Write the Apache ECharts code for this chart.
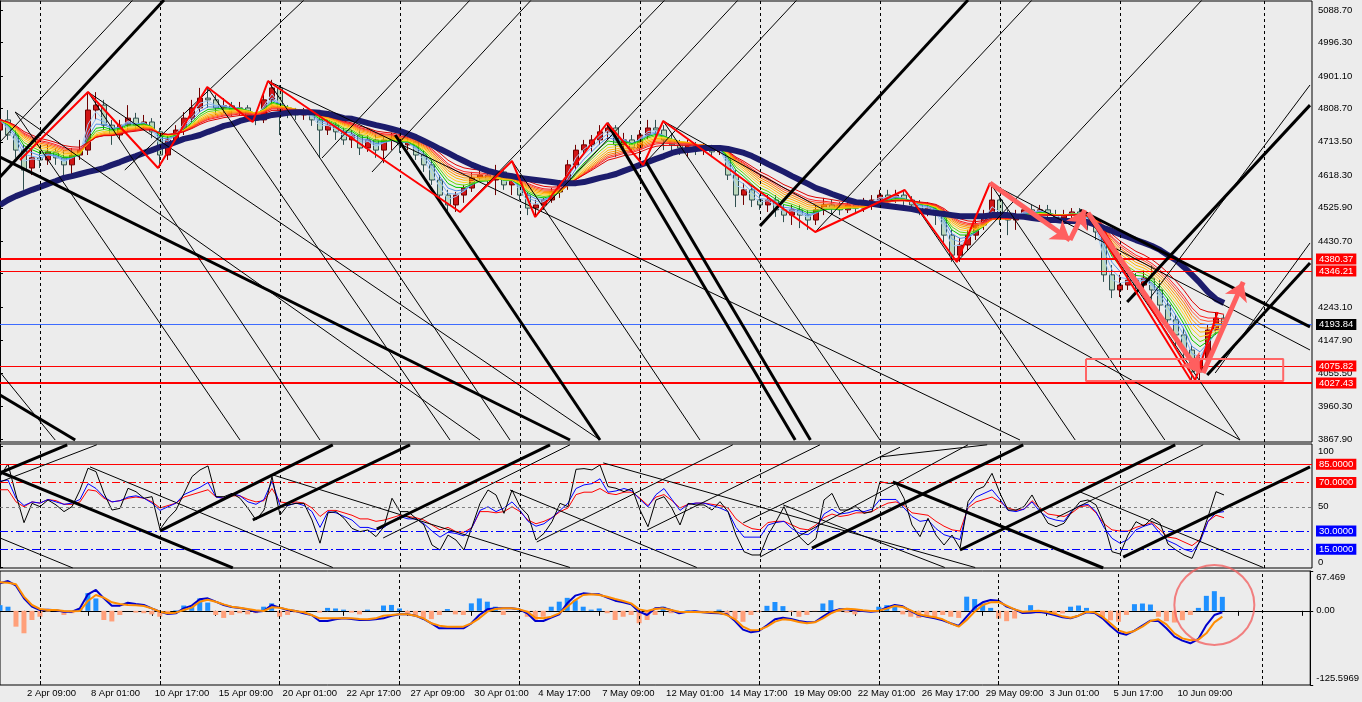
<!DOCTYPE html>
<html>
<head>
<meta charset="utf-8">
<script src="https://cdn.jsdelivr.net/npm/echarts@6/dist/echarts.min.js"></script>
<style>
html, body { margin: 0; padding: 0; background: #ececec; }
#chart { width: 1362px; height: 702px; }
</style>
</head>
<body>
<div id="chart"></div>
<script>
// time axis: one bar every 8px, label every 8 bars starting at bar 3
var timeLabels = ['2 Apr 09:00', '8 Apr 01:00', '10 Apr 17:00', '15 Apr 09:00', '20 Apr 01:00', '22 Apr 17:00',
	'27 Apr 09:00', '30 Apr 01:00', '4 May 17:00', '7 May 09:00', '12 May 01:00', '14 May 17:00', '19 May 09:00',
	'22 May 01:00', '26 May 17:00', '29 May 09:00', '3 Jun 01:00', '5 Jun 17:00', '10 Jun 09:00'];
var firstLabelBar = 3, labelStep = 8, barCount = 165;
var gridBars = [5, 20, 35, 50, 65, 80, 95, 110, 125, 140, 158];

// price axis
var priceTicks = [5088.70, 4996.30, 4901.10, 4808.70, 4713.50, 4618.30, 4525.90, 4430.70, 4338.30, 4243.10, 4147.90, 4055.50, 3960.30, 3867.90];
var redLevels = [4380.37, 4346.21, 4075.82, 4027.43];
var bidLevel = 4193.84;
var oscTicks = [0, 50, 100];
var oscLevels = [85, 70, 50, 30, 15];
var macdTicks = [-125.5969, 0, 67.469];

// candles: [open, close, low, high]
var candles = [
[4747,4776,4724,4798],[4776,4733,4719,4804],[4733,4690,4668,4747],[4690,4633,4577,4705],[4639,4668,4619,4690],
[4668,4662,4639,4690],[4662,4685,4648,4705],[4685,4668,4648,4696],[4668,4648,4619,4690],[4648,4676,4611,4696],
[4676,4690,4662,4719],[4690,4804,4676,4855],[4804,4818,4776,4855],[4818,4761,4747,4833],[4761,4733,4705,4776],
[4733,4761,4719,4776],[4761,4781,4747,4818],[4781,4761,4747,4796],[4761,4770,4747,4790],[4770,4742,4724,4781],
[4742,4676,4639,4753],[4676,4719,4662,4733],[4719,4747,4705,4761],[4747,4781,4733,4798],[4781,4810,4770,4833],
[4810,4838,4798,4867],[4838,4833,4810,4870],[4833,4810,4790,4847],[4810,4816,4796,4838],[4816,4804,4787,4827],
[4804,4810,4790,4827],[4810,4790,4776,4818],[4790,4776,4761,4798],[4776,4833,4767,4847],[4833,4867,4818,4890],
[4867,4804,4733,4875],[4804,4798,4781,4818],[4798,4790,4776,4810],[4790,4798,4776,4810],[4798,4776,4759,4804],
[4776,4747,4668,4784],[4747,4761,4733,4776],[4761,4742,4719,4770],[4742,4719,4705,4753],[4719,4733,4696,4747],
[4733,4696,4676,4747],[4696,4719,4685,4733],[4719,4690,4668,4733],[4690,4719,4653,4727],[4719,4724,4690,4739],
[4724,4705,4682,4739],[4705,4713,4690,4727],[4713,4676,4662,4719],[4676,4648,4628,4690],[4648,4605,4591,4662],
[4605,4562,4548,4619],[4562,4534,4514,4577],[4534,4562,4514,4571],[4562,4582,4540,4591],[4582,4611,4571,4628],
[4611,4619,4599,4633],[4619,4605,4591,4633],[4605,4628,4562,4648],[4628,4591,4577,4639],[4591,4605,4562,4619],
[4605,4562,4548,4611],[4562,4525,4505,4571],[4525,4534,4500,4548],[4534,4548,4520,4554],[4548,4571,4540,4582],
[4571,4591,4554,4605],[4591,4648,4577,4662],[4648,4690,4633,4705],[4690,4705,4676,4719],[4705,4719,4685,4733],
[4719,4742,4705,4761],[4742,4753,4719,4767],[4753,4705,4670,4761],[4705,4719,4690,4739],[4719,4696,4685,4733],
[4696,4733,4653,4747],[4733,4753,4719,4776],[4753,4747,4727,4776],[4747,4719,4690,4761],[4719,4705,4682,4733],
[4705,4696,4676,4719],[4696,4705,4670,4719],[4705,4690,4676,4713],[4690,4696,4676,4710],[4696,4685,4670,4705],
[4685,4690,4676,4699],[4690,4619,4605,4699],[4619,4562,4528,4633],[4562,4577,4534,4596],[4577,4548,4528,4591],
[4548,4534,4520,4562],[4534,4548,4514,4562],[4548,4520,4500,4562],[4520,4505,4485,4534],[4505,4520,4477,4534],
[4520,4505,4468,4534],[4505,4491,4463,4520],[4491,4520,4477,4534],[4520,4534,4505,4554],[4534,4525,4505,4548],
[4525,4520,4505,4542],[4520,4534,4511,4548],[4534,4525,4508,4548],[4525,4534,4514,4554],[4534,4548,4520,4562],
[4548,4562,4534,4577],[4562,4554,4534,4577],[4554,4562,4540,4577],[4562,4548,4534,4577],[4548,4534,4520,4559],
[4534,4520,4505,4548],[4520,4525,4502,4542],[4525,4505,4477,4534],[4505,4448,4420,4520],[4448,4391,4372,4463],
[4391,4420,4372,4440],[4420,4448,4406,4463],[4448,4477,4434,4491],[4477,4505,4463,4520],[4505,4548,4491,4596],
[4548,4505,4477,4562],[4505,4491,4448,4520],[4491,4505,4463,4520],[4505,4520,4497,4534],[4520,4514,4497,4534],
[4514,4520,4502,4534],[4520,4505,4491,4534],[4505,4497,4485,4520],[4497,4505,4485,4520],[4505,4514,4491,4525],
[4514,4505,4491,4525],[4505,4485,4463,4514],[4485,4457,4434,4497],[4457,4335,4315,4468],[4335,4292,4269,4363],
[4292,4306,4272,4335],[4306,4320,4292,4343],[4320,4306,4286,4340],[4306,4326,4292,4349],[4326,4292,4263,4363],
[4292,4249,4226,4320],[4249,4207,4178,4269],[4207,4164,4135,4221],[4164,4121,4093,4184],[4121,4059,4027,4135],
[4059,4093,4033,4107],[4093,4178,4079,4192],[4178,4212,4164,4229],[4212,4192,4184,4221]
];

// slow (thick navy) moving average
var slowMA = [
4534,4548,4559,4568,4577,4585,4594,4602,4611,4616,4622,4628,4633,4639,4648,4656,4665,4673,4682,4690,
4699,4705,4713,4722,4727,4733,4742,4750,4759,4764,4773,4779,4781,4784,4790,4793,4796,4798,4798,4798,
4796,4793,4787,4781,4779,4773,4767,4761,4756,4750,4744,4736,4727,4716,4705,4693,4682,4670,4659,4648,
4639,4631,4625,4619,4616,4611,4608,4605,4602,4599,4596,4596,4596,4599,4605,4611,4616,4622,4631,4639,
4648,4656,4665,4673,4682,4688,4690,4693,4696,4696,4696,4693,4688,4682,4673,4662,4650,4639,4628,4616,
4605,4594,4582,4574,4565,4557,4548,4542,4540,4537,4534,4531,4528,4525,4522,4517,4514,4511,4508,4505,
4502,4502,4502,4502,4505,4505,4505,4502,4500,4497,4494,4491,4491,4488,4488,4488,4485,4477,4468,4460,
4451,4443,4434,4426,4417,4406,4391,4377,4357,4335,4312,4286,4266,4255
];

// oscillator panel
var oscFast = [
74.8,85.2,59.7,36.9,52.8,50.1,55.6,51.5,46,50.1, 63.8,81.7,78.9,61,47.3,48.7,65.2,62.4,57,58.3,
31.4,40.5,47.3,61,74.8,80.3,83.6,58.3,58.3,61, 57,48.7,39.1,47.3,74.8,43.2,51.5,52.8,52.8,39.1,
20,45,46,40.5,32.2,29.5,30.9,25.4,33.6,57, 46,46,40.5,35,18.5,14.4,26.7,22.6,14.4,33.6,
52.8,63.8,59.7,44.6,63.8,50.1,43.2,22.6,28.1,37.7, 52.8,50.1,80.8,81.4,80.3,84.4,66.6,65.2,62.4,65.2,
47.3,33.6,55.6,58.3,48.7,35,52.8,51.5,51.5,47.3, 54.2,46,26.7,13,10.3,10.3,26.7,37.7,50.1,35,
24.8,18.5,24,55.6,61,47.3,47.3,50.1,44.6,46, 70.7,69.3,69.3,57,35,25.4,40.5,26.7,18.5,26.7,
15.8,54.2,63.8,66.6,77.5,61,47.3,47.3,50.1,59.7, 47.3,36.4,33.6,36.4,46,54.2,55.6,51.5,36.4,13,
11.1,26.7,37.7,34.2,40.5,36.4,19.3,14.4,10.3,7.5, 22.6,41.8,62.4,59.7
];
var oscMid = [
71,72,57,51,54,53,56,54,52,53, 56,69,65,58,54,55,58,59,57,53, 47,50,53,60,63,66,70,58,57,61,
59,54,52,56,71,51,51,53,51,46, 33,46,45,42,39,33,33,31,33,38, 42,40,40,36,30,25,29,28,26,33,
47,50,46,49,54,47,38,34,36,41, 47,53,65,68,69,73,62,63,65,63, 56,50,60,65,56,47,52,53,53,51,
49,46,33,25,25,25,35,37,38,32, 28,27,32,44,48,44,45,47,46,48, 56,56,56,49,42,38,39,32,27,25,
23,51,58,61,64,56,47,46,48,54, 46,41,39,38,47,51,52,46,33,24, 20,23,31,34,36,28,22,19,15,13,
21,38,45,46
];
var oscSlow = [
64,64,54,50,54,53,56,55,52,52, 54,64,63,57,54,55,57,58,57,54, 49,51,53,58,60,62,64,58,57,59,
59,56,54,55,65,54,53,54,53,49, 42,47,47,45,43,40,40,38,39,41, 43,42,41,39,35,31,33,29.5,29,33,
46,46,45,46,50,46,39,36,38,41, 46,49,60,62,62,65,61,60,62,62, 57,51,58,60,55,49,52,53,53,52,
51,49,40,35,32,31,37,38,38,35, 32,31,35,41,44,42,43,45,45,46, 50,53,54,51,45,44,43,38,34,31,
30,49,54,56,58,54,49,47,48,55, 49,44,43,42,45,50,51,45,36,31, 30,30,33,35,37,31,25,24,21,18,
23,38,43,41
];

// MACD panel
var macdMain = [
46.6,50.5,42.6,21.2,7.1,1.4,2,0.9,-1.4,-1.4, 4.2,28,35.3,21.2,8.8,8.8,13.8,11.6,9.9,4.2,
-1.4,-5.4,-4.2,4.2,8.8,19.5,21.2,15.5,9.9,6.5, 4.8,2.5,-1.4,-0.3,9.9,5.4,1.4,-0.3,-4.2,-7.1,
-17.2,-17.2,-14.4,-12.7,-13.8,-15.5,-15.5,-14.4,-12.7,-8.2, -5.9,-5.9,-8.2,-13.8,-21.1,-29.6,-29.6,-29.6,-29.6,-21.1,
-7.1,2.5,4.2,4.2,4.2,2.5,-4.2,-17.2,-17.2,-11.6, -5.9,12.7,25.7,29.6,28.5,28,22.3,17.2,14.4,11,
-1.4,-7.1,4.2,5.4,1.4,-4.2,-1.4,-0.8,-2.5,-3.7, -4.2,-5.9,-17.2,-31.9,-36.4,-34.1,-24.5,-14.4,-11.6,-13.8,
-17.2,-19.5,-18.9,-9.9,-1.4,2.5,2.5,0.9,-0.3,-1.4, -0.3,5.9,9.9,7.6,-0.3,-7.1,-9.9,-12.7,-16.1,-21.1,
-25.7,-9.9,5.4,14.4,18.3,17.2,7.1,2.5,-3.7,-3.1, -1.4,-3.7,-7.1,-11,-12.7,-8.2,-2.5,-3.7,-12.7,-25.7,
-37,-40.4,-33.6,-25.1,-16.6,-17.2,-29.6,-43.7,-50.5,-55, -47.7,-24,-7.1,-2.5
];
var macdSignal = [
48.3,47.7,44.9,24,9.9,3.1,1.4,1.4,-0.3,-0.8, -0.3,16.7,26.8,22.3,14.4,11.6,9.9,9.3,8.2,4.2,
-1.4,-4.2,-3.1,1.4,5.4,15.5,18.9,15.5,11,7.1, 5.4,3.1,0.9,-0.3,5.9,5.4,2.5,-0.3,-2.5,-7.1,
-12.7,-12.7,-12.7,-12.7,-12.7,-13.8,-14.4,-12.7,-8.2,-7.1, -5.9,-5.9,-8.2,-12.7,-21.1,-25.1,-26.8,-26.8,-26.8,-21.1,
-12.7,-1.4,3.1,4.2,4.2,2.5,-1.4,-11.6,-12.7,-9.9, -4.2,7.1,18.3,26.8,28,26.8,24,20,16.7,12.7,
2.5,-0.3,3.1,4.2,1.4,-1.4,-2,-2,-2.5,-2.5, -3.1,-7.1,-14.4,-26.8,-33,-32.4,-26.8,-18.3,-14.4,-15.5,
-18.9,-21.1,-19.5,-12.7,-4.2,1.4,3.7,2.5,0.9,-0.3, 0.3,3.7,8.2,6.5,0.9,-5.9,-8.7,-11,-14.4,-21.1,
-26.8,-15.5,-1.4,9.9,14.4,15,8.8,2.5,-1.4,-0.8, 0.3,-1.4,-4.8,-9.3,-11.6,-8.2,-1.4,-2.5,-9.9,-21.1,
-33,-37.5,-34.1,-26.8,-17.2,-14.4,-22.8,-38.1,-46.6,-49.9, -48.8,-38.1,-19.5,-9.9
];
var macdHist = [
9.6,7,-26.8,-38,-15.5,-10,-1.4,1.4,-7,-4, 4,30,21,-15.5,-18,-7,0,-3,-4,-6,
-10,-4,1,9,7,21,14,-7,-12,-7, -4,-6,-4,7,12.7,-10,-7,-3,-1.4,0,
-3,5,4,2,-3,-6,2,0,9,10, 4,-4,-7,-12.7,-14,-7,3,-6,-7,12.7,
21,15.5,7,-7,0,1,-10,-15.5,-10,7, 15.5,22,18,7,2,4,-4,-15.5,-10,-7,
-21,-15.5,-7,7,-4,0,1,0.5,-3,-3, 2,-7,-14,-18.6,-7,-1.7,8.5,15,8,-1.7,
-10,-7,-0.5,12.4,18,-1.7,-3,-6,-1.7,0.5, 7,9.6,7,-6,-10,-12,-10,-13,-7,-10,
-12,24,20,12.4,5,-13,-17.5,-13,0,9.6, -4.5,-4.5,-4.5,-4.5,7,9,5,0,-12,-16,
-18.6,-7,11.3,12.4,10.7,-10,-17.5,-19.8,-15.8,-7, 5,25.4,33.3,23.7
];
var circleMark = [[152, 9.9]];

// drawn objects on the price window, [bar, price]
var zigzag = [[2.5,4661.8],[11,4855.3],[19.75,4639.1],[25.9,4869.6],[31.6,4770],[33.5,4886.7],[57.5,4513.9],
	[64,4659],[66.9,4499.6],[75.9,4767.1],[80.4,4647.6],[82.9,4772.8],[101.9,4457],[113.1,4576.5],
	[119.6,4371.6],[123.75,4596.4]];
var redLines = [[[135.9,4511],[149,4030]], [[138,4460],[149.4,4035]], [[149.4,4035],[152.2,4229]]];
var arrows = [[[123.75,4596.4],[133.75,4434.2]], [[133.75,4434.2],[135.6,4519.6]],
	[[136,4511],[150,4055.7]], [[150.4,4055.7],[155.4,4314.7]]];
var boxArea = [[135.75,4095.5],[160.4,4095.5],[160.4,4033],[135.75,4033],[135.75,4095.5]];
var thickLines = [
	[[0,4613.5],[20.5,5117]], [[0,4670.4],[71.25,3865]], [[0,3993],[9.4,3865]], [[49.4,4733],[75,3865]],
	[[75.9,4767],[99.4,3865]], [[80.6,4662],[101.3,3865]], [[95,4474],[121,5117]], [[140.9,4258],[163.75,4818]],
	[[150.9,4050],[163.75,4369]], [[135,4519.6],[163.75,4187]]
];
var thinLines = [
	[[0,4713.1],[16.6,5117]], [[15.6,4633.4],[38,5117]], [[40.25,4667.5],[58.75,5117]], [[46.5,4627.7],[66.4,5117]],
	[[57.5,4513.9],[83.1,5117]], [[66.9,4499.6],[92.25,5117]], [[80.4,4647.6],[99.6,5117]], [[101.9,4457],[129,5117]],
	[[119.6,4371.6],[150.25,5117]], [[143.75,4269],[163.75,4875.3]], [[151.9,4055.7],[163.75,4425.7]],
	[[1.9,4798.4],[30,3865]], [[11,4855.3],[40,3865]], [[25.9,4869.6],[56.25,3865]], [[33.5,4886.7],[63.75,3865]],
	[[64,4659],[87.5,3865]], [[82.9,4772.8],[110,3865]], [[113.1,4576.5],[134.4,3865]], [[123.75,4596.4],[145.6,3865]],
	[[135.4,4519.6],[155,3865]],
	[[11,4855.3],[75,3865]], [[1.9,4798.4],[60,3865]], [[33.5,4886.7],[127.5,3865]], [[82.9,4772.8],[155,3865]],
	[[123.75,4596.4],[163.75,4121.2]], [[0,4058],[6.9,3865]]
];
// drawn objects on the oscillator window, [bar, value]
var oscThick = [
	[[0,78.7],[29.1,-0.4]], [[0,77.8],[8.4,101]], [[20,30.1],[41.6,101]], [[31.6,39.1],[51.25,101]],
	[[47.1,31.7],[68.75,101]], [[101.5,16],[127.9,101]], [[111.6,70.4],[137.9,-0.4]], [[120,14.4],[146.9,101]],
	[[140.4,8.6],[163.75,82.8]]
];
var oscThin = [
	[[0,70.4],[12.1,101]], [[11.25,82.8],[41.6,0]], [[0,24.3],[9.1,-0.4]], [[34.1,76.2],[71.25,0]],
	[[47.9,24.3],[71.25,101]], [[63.75,63.8],[87.1,0]], [[67.1,21],[91.6,101]], [[80.9,30.9],[102.5,101]],
	[[75.4,86.1],[121.9,0]], [[92.9,36.7],[112.5,99]], [[95,8.6],[121,101]], [[97.9,51.5],[118.1,0]],
	[[110,91],[123.4,101]], [[135,62.2],[157.9,0]], [[132.1,41.2],[150.4,101]]
];

var emaPeriods = [2, 3, 4, 5, 6, 7, 8, 9, 10, 11, 12, 14];
var ribbonColors = ['#a4ccf4', '#7cb2f0', '#4f8fe6', '#00c800', '#66d600', '#ffd21f', '#ffb400', '#ff9900',
	'#ff7a00', '#ff5030', '#ff2020', '#dd0000'];

var FONT = 'Liberation Sans';

function ema(src, n) {
	var k = 2 / (n + 1), out = [], prev = src[0];
	for (var i = 0; i < src.length; i++) {
		prev = i === 0 ? src[0] : src[i] * k + prev * (1 - k);
		out.push(Math.round(prev * 100) / 100);
	}
	return out;
}

function showChart(divId) {
	var chart = echarts.init(document.getElementById(divId), null, { renderer: 'canvas' });
	chart.setOption(genOption(), true);
}

function genOption() {
	var cats = [];
	for (var i = 0; i < barCount; i++) cats.push('');
	timeLabels.forEach(function (t, k) { cats[firstLabelBar + k * labelStep] = t; });
	var closes = candles.map(function (c) { return c[1]; });
	var blank = cats.map(function () { return '-'; });

	var labelStyle = { color: '#000', fontFamily: FONT, fontSize: 9.5 };
	var gridLineData = gridBars.map(function (b) { return { xAxis: b }; });
	var gridMark = {
		silent: true, symbol: 'none', label: { show: false },
		lineStyle: { color: '#000', type: [3, 3], width: 1 },
		data: gridLineData
	};

	function tag(v, bg, text, lineStyle) {
		return {
			yAxis: v, lineStyle: lineStyle,
			label: {
				show: !!bg, position: 'end', distance: 4, formatter: text,
				color: '#fff', backgroundColor: bg, padding: [1, 3, 0, 3],
				fontFamily: FONT, fontSize: 9.5
			}
		};
	}

	var priceMarks = redLevels.map(function (v, k) {
		return tag(v, '#ff0000', v.toFixed(2), { color: '#ff0000', width: (k === 0 || k === 3) ? 2 : 1, type: 'solid' });
	});
	priceMarks.push(tag(bidLevel, '#000', bidLevel.toFixed(2), { color: '#3d6bff', width: 1, type: 'solid' }));

	var oscStyles = {
		85: { color: '#ff0000', type: 'solid', bg: '#ff0000' },
		70: { color: '#ff0000', type: [8, 3, 2, 3], bg: '#ff0000' },
		50: { color: '#808080', type: [3, 3], bg: null },
		30: { color: '#0000ff', type: [8, 3, 2, 3], bg: '#0000ff' },
		15: { color: '#0000ff', type: [8, 3, 2, 3], bg: '#0000ff' }
	};
	var oscMarks = oscLevels.map(function (v) {
		var s = oscStyles[v];
		return tag(v, s.bg, v.toFixed(4), { color: s.color, type: s.type, width: 1 });
	});

	var series = [];
	// grid lines behind everything
	[[0, 0], [2, 1], [4, 2]].forEach(function (p) {
		series.push({ type: 'line', xAxisIndex: p[0], yAxisIndex: p[1], data: blank, symbol: 'none', z: 1,
			silent: true, markLine: gridMark });
	});

	series.push({
		type: 'candlestick', xAxisIndex: 0, yAxisIndex: 0, data: candles, barWidth: 5, z: 2, silent: true,
		itemStyle: { color: '#d01616', color0: '#bcd8bc', borderColor: '#6e0000', borderColor0: '#2f4f4f', borderWidth: 1 }
	});
	emaPeriods.forEach(function (p, k) {
		series.push({ type: 'line', xAxisIndex: 0, yAxisIndex: 0, data: ema(closes, p), symbol: 'none', z: 3,
			silent: true, lineStyle: { color: ribbonColors[k], width: 1 } });
	});
	series.push({
		type: 'line', xAxisIndex: 0, yAxisIndex: 0, data: slowMA, symbol: 'none', z: 4, silent: true,
		lineStyle: { color: '#1c1c6c', width: 6 },
		markLine: { silent: true, symbol: 'none', data: priceMarks }
	});
	series.push({ type: 'lines', coordinateSystem: 'cartesian2d', xAxisIndex: 1, yAxisIndex: 0, z: 5, silent: true, clip: true,
		data: thinLines.map(function (c) { return { coords: c }; }), lineStyle: { color: '#000', width: 1, opacity: 1 } });
	series.push({ type: 'lines', coordinateSystem: 'cartesian2d', xAxisIndex: 1, yAxisIndex: 0, z: 5, silent: true, clip: true,
		data: thickLines.map(function (c) { return { coords: c }; }), lineStyle: { color: '#000', width: 3, opacity: 1 } });
	series.push({ type: 'line', xAxisIndex: 1, yAxisIndex: 0, data: zigzag, symbol: 'none', z: 6, silent: true,
		lineStyle: { color: '#ff0000', width: 2 } });
	series.push({ type: 'lines', coordinateSystem: 'cartesian2d', xAxisIndex: 1, yAxisIndex: 0, z: 6, silent: true, clip: true,
		data: redLines.map(function (c) { return { coords: c }; }), lineStyle: { color: '#ff0000', width: 2, opacity: 1 } });
	series.push({ type: 'lines', coordinateSystem: 'cartesian2d', xAxisIndex: 1, yAxisIndex: 0, z: 7, silent: true, clip: true,
		symbol: ['none', 'arrow'], symbolSize: 18,
		data: arrows.map(function (c) { return { coords: c }; }), lineStyle: { color: '#ff5f5f', width: 5, opacity: 1 } });
	series.push({ type: 'line', xAxisIndex: 1, yAxisIndex: 0, data: boxArea, symbol: 'none', z: 6, silent: true,
		lineStyle: { color: '#ff6666', width: 2 } });

	// oscillator window
	series.push({ type: 'line', xAxisIndex: 2, yAxisIndex: 1, data: oscSlow, symbol: 'none', z: 3, silent: true,
		lineStyle: { color: '#ff0000', width: 1 },
		markLine: { silent: true, symbol: 'none', data: oscMarks } });
	series.push({ type: 'line', xAxisIndex: 2, yAxisIndex: 1, data: oscMid, symbol: 'none', z: 3, silent: true,
		lineStyle: { color: '#0000ff', width: 1 } });
	series.push({ type: 'line', xAxisIndex: 2, yAxisIndex: 1, data: oscFast, symbol: 'none', z: 3, silent: true,
		lineStyle: { color: '#000', width: 1 } });
	series.push({ type: 'lines', coordinateSystem: 'cartesian2d', xAxisIndex: 3, yAxisIndex: 1, z: 5, silent: true, clip: true,
		data: oscThin.map(function (c) { return { coords: c }; }), lineStyle: { color: '#000', width: 1, opacity: 1 } });
	series.push({ type: 'lines', coordinateSystem: 'cartesian2d', xAxisIndex: 3, yAxisIndex: 1, z: 5, silent: true, clip: true,
		data: oscThick.map(function (c) { return { coords: c }; }), lineStyle: { color: '#000', width: 3, opacity: 1 } });

	// MACD window
	series.push({ type: 'bar', xAxisIndex: 4, yAxisIndex: 2, data: macdHist, barWidth: 5, z: 2, silent: true,
		itemStyle: { color: function (p) { return p.value >= 0 ? '#1e90ff' : '#ffa07a'; } } });
	series.push({ type: 'line', xAxisIndex: 4, yAxisIndex: 2, data: macdMain, symbol: 'none', z: 3, silent: true,
		lineStyle: { color: '#0000cd', width: 2 } });
	series.push({ type: 'line', xAxisIndex: 4, yAxisIndex: 2, data: macdSignal, symbol: 'none', z: 4, silent: true,
		lineStyle: { color: '#ff8c00', width: 2 } });
	series.push({ type: 'scatter', xAxisIndex: 4, yAxisIndex: 2, data: circleMark, symbol: 'circle', symbolSize: 80,
		z: 8, silent: true, clip: false, itemStyle: { color: 'rgba(0,0,0,0)', borderColor: '#f26464', borderWidth: 2 } });

	function catAxis(g, extra) {
		var a = { type: 'category', gridIndex: g, data: cats, boundaryGap: false,
			axisLine: { show: false }, axisTick: { show: false }, axisLabel: { show: false }, splitLine: { show: false } };
		return Object.assign(a, extra || {});
	}
	function valAxis(g) {
		return { type: 'value', gridIndex: g, min: 0, max: barCount - 1, show: false };
	}
	var isLabel = function (idx) { return idx >= firstLabelBar && (idx - firstLabelBar) % labelStep === 0; };
	var isGrid = function (idx) { return gridBars.indexOf(idx) >= 0; };

	var yBase = {
		type: 'value', position: 'right',
		axisLine: { show: true, lineStyle: { color: '#000' } },
		splitLine: { show: false }
	};

	return {
		backgroundColor: '#ececec',
		animation: false,
		textStyle: { fontFamily: FONT },
		grid: [
			{ left: 0, right: 50, top: 1, height: 441, show: true, borderColor: '#000', borderWidth: 1 },
			{ left: 0, right: 50, top: 444, height: 124, show: true, borderColor: '#000', borderWidth: 1 },
			{ left: 0, right: 50, top: 571, height: 114, show: true, borderColor: '#000', borderWidth: 1 }
		],
		xAxis: [
			catAxis(0), valAxis(0),
			catAxis(1), valAxis(1),
			catAxis(2, {
				position: 'bottom',
				axisLine: { show: true, lineStyle: { color: '#000' } },
				axisTick: { show: true, interval: isLabel, length: 5, lineStyle: { color: '#000' } },
				axisLabel: Object.assign({ show: true, interval: isLabel, align: 'left', margin: 3, padding: [0, 0, 0, 3] }, labelStyle)
			}),
			catAxis(2, {
				position: 'bottom',
				axisTick: { show: true, inside: true, interval: isGrid, length: 4, lineStyle: { color: '#000' } }
			})
		],
		yAxis: [
			Object.assign({}, yBase, {
				gridIndex: 0, min: 3859.36, max: 5114.31,
				axisTick: { show: true, length: 3, customValues: priceTicks, lineStyle: { color: '#000' } },
				axisLabel: Object.assign({ customValues: priceTicks, margin: 6, formatter: function (v) { return v.toFixed(2); } }, labelStyle)
			}),
			Object.assign({}, yBase, {
				gridIndex: 1, min: -0.41, max: 101.65,
				axisTick: { show: true, length: 3, customValues: oscTicks, lineStyle: { color: '#000' } },
				axisLabel: Object.assign({
					customValues: oscTicks, margin: 6,
					formatter: function (v) { return v === 100 ? '{t|100}' : (v === 0 ? '{b|0}' : String(v)); },
					rich: { t: { padding: [10, 0, 0, 0], fontSize: 9.5, fontFamily: FONT }, b: { padding: [0, 0, 10, 0], fontSize: 9.5, fontFamily: FONT } }
				}, labelStyle)
			}),
			Object.assign({}, yBase, {
				gridIndex: 2, min: -125.5969, max: 67.469,
				axisTick: { show: true, length: 3, customValues: macdTicks, lineStyle: { color: '#000' } },
				axisLabel: Object.assign({
					customValues: macdTicks, margin: 6,
					formatter: function (v) {
						if (v > 60) return '{t|67.469}';
						if (v < -100) return '{b|-125.5969}';
						return '0.00';
					},
					rich: { t: { padding: [12, 0, 0, 0], fontSize: 9.5, fontFamily: FONT }, b: { padding: [0, 0, 14, 0], fontSize: 9.5, fontFamily: FONT } }
				}, labelStyle)
			})
		],
		series: series
	};
}

showChart('chart');
</script>
</body>
</html>
